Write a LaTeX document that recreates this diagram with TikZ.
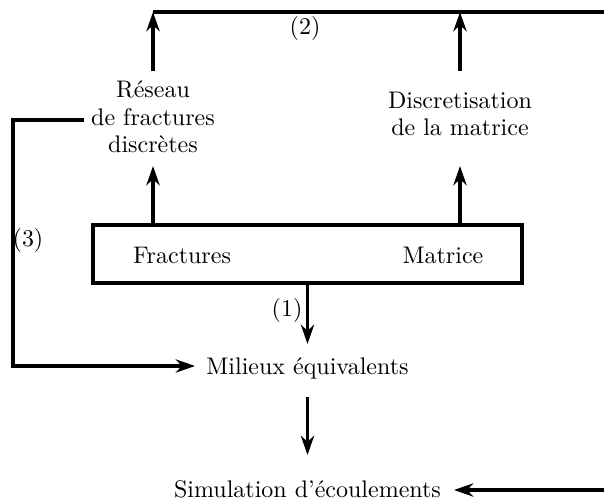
\documentclass[tikz,border=0pt]{standalone}
\usetikzlibrary{arrows.meta}
\begin{document}
\begin{tikzpicture}[x=0.4167pt,y=-0.4167pt,
  line width=1.3pt,
  arr/.style={-{Stealth[length=8pt,width=5.5pt,inset=2.5pt]}},
  txt/.style={inner sep=0pt,outer sep=0pt,align=center,font=\fontsize{10}{11.4}\selectfont},
  lbl/.style={inner sep=0pt,font=\fontsize{10}{12}\selectfont}]
\useasboundingbox (0,0) rectangle (604,501);
% nodes
\node[txt] (reseau) at (153,117) {Réseau\\de fractures\\discrètes};
\node[txt] (discr) at (460,114) {Discretisation\\de la matrice};
\node[draw,minimum width=178.8pt,minimum height=24.2pt,inner sep=0pt] (box) at (307.5,254) {};
\node[txt] (fract) at (182,255) {Fractures};
\node[txt] (matr) at (443,255) {Matrice};
\node[txt] (milieux) at (307.5,368) {Milieux équivalents};
\node[txt] (simul) at (307.5,489) {Simulation d'écoulements};
\node[lbl] (l2) at (305,28) {(2)};
\node[lbl] (l3) at (28,240) {(3)};
\node[lbl] (l1) at (287,310) {(1)};
% coordinates
\coordinate (topL) at (153,12);
\coordinate (topR) at (604,12);
\coordinate (upS) at (0,71);
\coordinate (midT) at (0,166);
\coordinate (loopTop) at (13,120);
\coordinate (loopBot) at (13,366);
\coordinate (loopTip) at (195,366);
\coordinate (retR) at (604,490);
\coordinate (retTip) at (454,490);
\coordinate (m1T) at (0,344);
\coordinate (m2S) at (0,397);
\coordinate (m2T) at (0,455);
% connectors
\draw (topL) -- (topR);
\draw[arr] (reseau |- upS) -- (topL);
\draw[arr] (discr |- upS) -- (discr |- topL);
\draw[arr] (box.north -| reseau) -- (reseau |- midT);
\draw[arr] (box.north -| discr) -- (discr |- midT);
\draw[arr] (box.south) -- (milieux |- m1T);
\draw[arr] (milieux |- m2S) -- (milieux |- m2T);
\draw[arr] ([xshift=-3pt]reseau.west |- loopTop) -- (loopTop) -- (loopBot) -- (loopTip);
\draw[arr] (retR) -- (retTip);
\end{tikzpicture}
\end{document}
